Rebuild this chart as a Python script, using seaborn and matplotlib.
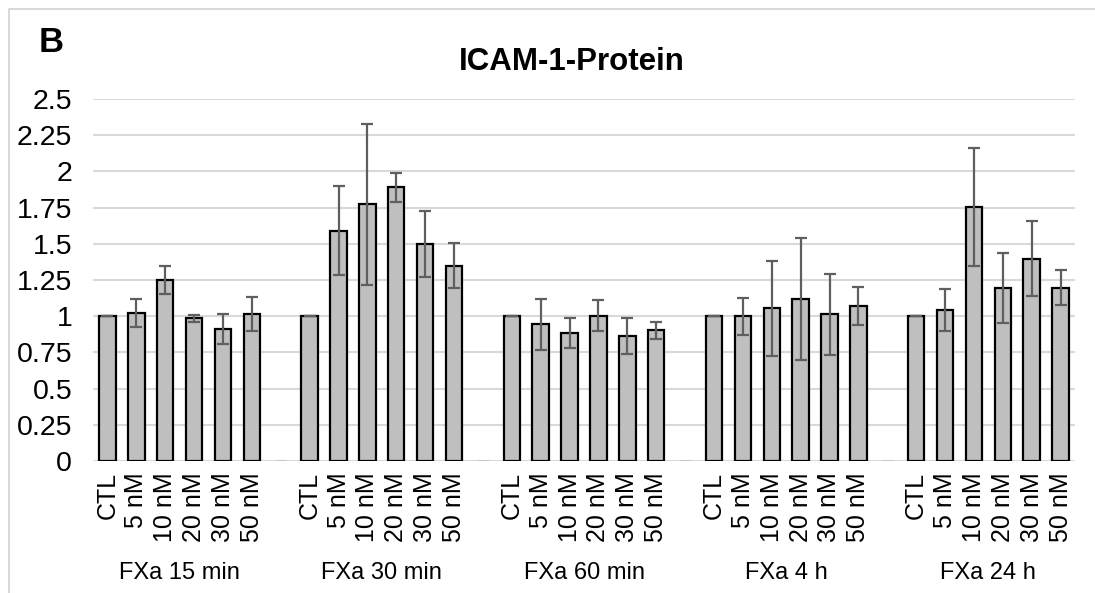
import numpy as np
import pandas as pd
import matplotlib
matplotlib.use("Agg")
import matplotlib.pyplot as plt
from matplotlib.lines import Line2D
import seaborn as sns

# ---- data ----
groups = ["FXa 15 min", "FXa 30 min", "FXa 60 min", "FXa 4 h", "FXa 24 h"]
conditions = ["CTL", "5 nM", "10 nM", "20 nM", "30 nM", "50 nM"]
mean_15min = [1.0, 1.024, 1.25, 0.985, 0.914, 1.013]
err_15min = [0.0, 0.097, 0.10, 0.026, 0.103, 0.117]
mean_30min = [1.0, 1.59, 1.773, 1.892, 1.499, 1.349]
err_30min = [0.0, 0.306, 0.557, 0.10, 0.225, 0.155]
mean_60min = [1.0, 0.944, 0.882, 1.003, 0.865, 0.902]
err_60min = [0.0, 0.175, 0.103, 0.108, 0.123, 0.058]
mean_4h = [1.0, 0.998, 1.054, 1.121, 1.013, 1.073]
err_4h = [0.0, 0.125, 0.327, 0.421, 0.281, 0.131]
mean_24h = [1.0, 1.04, 1.752, 1.195, 1.397, 1.197]
err_24h = [0.0, 0.145, 0.407, 0.24, 0.26, 0.12]
yticks = [0, 0.25, 0.5, 0.75, 1, 1.25, 1.5, 1.75, 2, 2.25, 2.5]

means = [mean_15min, mean_30min, mean_60min, mean_4h, mean_24h]
errs = [err_15min, err_30min, err_60min, err_4h, err_24h]

# build table: 6 bars per group plus an empty (zero) slot between groups
rows = []
for gi, g in enumerate(groups):
    for ci, c in enumerate(conditions):
        rows.append(dict(slot=f"{gi}_{c}", label=c, group=g, value=means[gi][ci],
                         err=errs[gi][ci], empty=False))
    if gi < len(groups) - 1:
        rows.append(dict(slot=f"{gi}_gap", label="", group=g, value=0.0,
                         err=np.nan, empty=True))
df = pd.DataFrame(rows)

# ---- style ----
sns.set_theme(style="white")
plt.rcParams["font.family"] = ["Liberation Sans", "DejaVu Sans"]

W, H = 1095, 593
fig = plt.figure(figsize=(W / 100, H / 100), dpi=100)
ax = fig.add_axes([93 / W, (H - 461) / H, (1075 - 93) / W, (461 - 99) / H])

sns.barplot(data=df, x="slot", y="value", order=list(df["slot"]), color="#BFBFBF",
            saturation=1, width=0.57, edgecolor="black", linewidth=1.6,
            errorbar=None, ax=ax, zorder=3)

patches = ax.patches
for p, (_, r) in zip(patches, df.iterrows()):
    if r["empty"]:
        p.set_edgecolor("#808080")
        p.set_linewidth(1.0)
        w = p.get_width()
        p.set_x(p.get_x() + w * 0.15)
        p.set_width(w * 0.7)

# error bars at bar centres
xc = np.array([p.get_x() + p.get_width() / 2 for p in patches])
mask = ~df["empty"].values
ax.errorbar(xc[mask], df["value"].values[mask], yerr=df["err"].values[mask],
            fmt="none", ecolor="#5F5F5F", elinewidth=1.6, capsize=4.3,
            capthick=1.6, zorder=4)

ax.set_xlim(-0.5, len(df) - 0.5)
ax.set_ylim(0, 2.5)
ax.set_yticks(yticks)
ax.set_yticklabels([f"{v:g}" for v in yticks], fontsize=20.5, color="black")
ax.yaxis.grid(True, color="#D9D9D9", linewidth=1.5, zorder=0)
ax.set_axisbelow(True)
for s in ax.spines.values():
    s.set_visible(False)
ax.tick_params(axis="y", length=0, pad=15)

tick_pos = xc[mask]
ax.set_xticks(tick_pos)
ax.set_xticklabels(df["label"].values[mask], rotation=90, fontsize=18, color="black")
ax.tick_params(axis="x", length=0, pad=8)
ax.set_xlabel("")
ax.set_ylabel("")

# group labels
trans = ax.get_xaxis_transform()
for g in groups:
    pos = xc[(df["group"].values == g) & mask]
    ax.text(pos.mean(), -(573 - 461) / (461 - 99), g, transform=trans,
            ha="center", va="center", fontsize=17, color="black")

# title and panel letter
fig.text(572 / W, 1 - 62 / H, "ICAM-1-Protein", ha="center", va="center",
         fontsize=22.5, fontweight="bold", color="black")
fig.text(51 / W, 1 - 42 / H, "B", ha="center", va="center",
         fontsize=25, fontweight="bold", color="black")

# chart-area border (top & left visible)
fig.add_artist(Line2D([8.5 / W, 8.5 / W, 1.01], [-0.01, 1 - 9 / H, 1 - 9 / H],
                      transform=fig.transFigure, color="#D9D9D9", linewidth=1.5))

fig.savefig("out.png", dpi=100)
